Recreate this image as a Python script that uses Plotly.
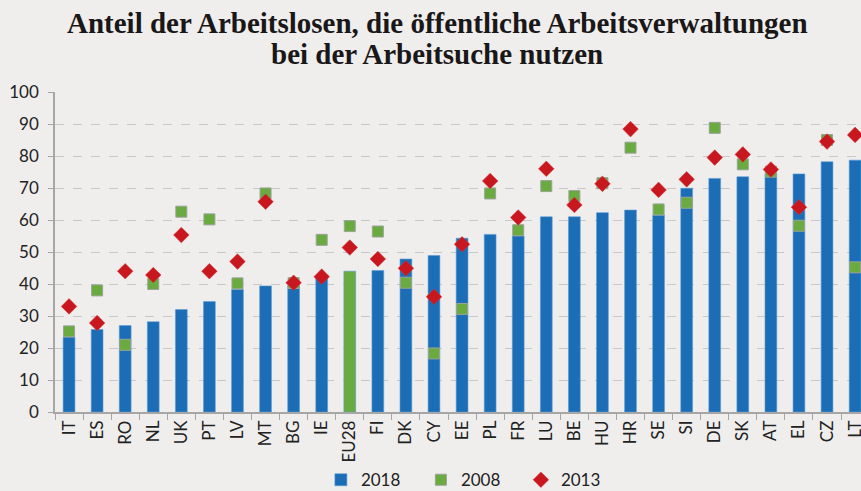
import plotly.graph_objects as go

countries = ["IT", "ES", "RO", "NL", "UK", "PT", "LV", "MT", "BG", "IE", "EU28", "FI", "DK", "CY",
             "EE", "PL", "FR", "LU", "BE", "HU", "HR", "SE", "SI", "DE", "SK", "AT", "EL", "CZ", "LT"]
v2018 = [23.4, 25.8, 27.0, 28.2, 32.0, 34.5, 38.3, 39.4, 39.5, 42.0, 44.0, 44.2, 47.8, 48.9,
         54.3, 55.5, 55.0, 61.0, 61.0, 62.3, 63.1, 61.5, 69.9, 73.0, 73.5, 74.5, 74.4, 78.2, 78.7]
v2008 = [25.2, 38.0, 21.0, 40.0, 62.6, 60.2, 40.2, 68.3, 40.3, 53.8, 58.1, 56.4, 40.4, 18.3,
         32.2, 68.3, 56.8, 70.6, 67.5, 71.5, 82.6, 63.3, 65.4, 88.8, 77.4, 75.1, 58.2, 85.0, 45.2]
v2013 = [33.0, 27.8, 44.0, 42.8, 55.3, 44.0, 47.0, 65.7, 40.4, 42.3, 51.4, 47.8, 44.9, 36.0,
         52.4, 72.2, 60.8, 76.0, 64.7, 71.3, 88.4, 69.4, 72.7, 79.5, 80.5, 75.8, 64.0, 84.5, 86.6]
title_lines = ["Anteil der Arbeitslosen, die öffentliche Arbeitsverwaltungen",
               "bei der Arbeitsuche nutzen"]

BLUE = "#1b6db6"
GREEN = "#6aab3f"
RED = "#c8171e"
BG = "#efeeed"

bar_colors = [GREEN if c == "EU28" else BLUE for c in countries]

fig = go.Figure()
fig.add_trace(go.Bar(
    x=countries, y=v2018, name="2018",
    marker=dict(color=bar_colors, line=dict(color="#5b9bd5", width=0.6)),
    width=0.42,
))
fig.add_trace(go.Scatter(
    x=countries, y=v2008, name="2008", mode="markers",
    marker=dict(symbol="square", size=11, color=GREEN, line=dict(color="#9aa39a", width=1)),
))
fig.add_trace(go.Scatter(
    x=countries, y=v2013, name="2013", mode="markers",
    marker=dict(symbol="diamond", size=12, color=RED, line=dict(color="#d4363c", width=0.5)),
))

title_font = dict(family="Liberation Serif", size=29, color="#1a1718", weight="bold")
for line, ypos in zip(title_lines, [1.215, 1.12]):
    fig.add_annotation(
        text=line, xref="paper", yref="paper", x=0.474, y=ypos,
        xanchor="center", yanchor="middle", showarrow=False, font=title_font,
    )

fig.update_layout(
    width=861, height=491,
    paper_bgcolor=BG, plot_bgcolor=BG,
    margin=dict(l=55, r=0, t=92, b=79),
    showlegend=True,
    legend=dict(
        orientation="h", x=0.516, xanchor="center",
        yref="container", y=0.022, yanchor="middle",
        font=dict(family="Lato", size=17, color="#222222"),
        bgcolor="rgba(0,0,0,0)", itemwidth=30, tracegroupgap=0,
        entrywidth=55,
    ),
    xaxis=dict(
        type="category", range=[-0.5, 28.21], automargin=False,
        tickangle=-90, tickfont=dict(family="Lato", size=17, color="#222222"),
        ticks="outside", tickson="boundaries", ticklen=6, tickcolor="#a6a6a6",
        showline=True, linecolor="#a6a6a6", linewidth=1.5,
        showgrid=False,
    ),
    yaxis=dict(
        range=[0, 100], tick0=0, dtick=10, automargin=False,
        tickfont=dict(family="Lato", size=17, color="#222222"),
        ticks="outside", ticklen=5, tickcolor="#a6a6a6", ticklabelstandoff=6,
        showline=True, linecolor="#a6a6a6", linewidth=1.5,
        showgrid=True, gridcolor="#c8c8c8", griddash="dash", gridwidth=1,
        zeroline=False,
    ),
)

fig.write_html(
    "out.html",
    config={"displayModeBar": False},
    post_script="document.body.style.margin='0';document.body.style.background='" + BG + "';",
)
